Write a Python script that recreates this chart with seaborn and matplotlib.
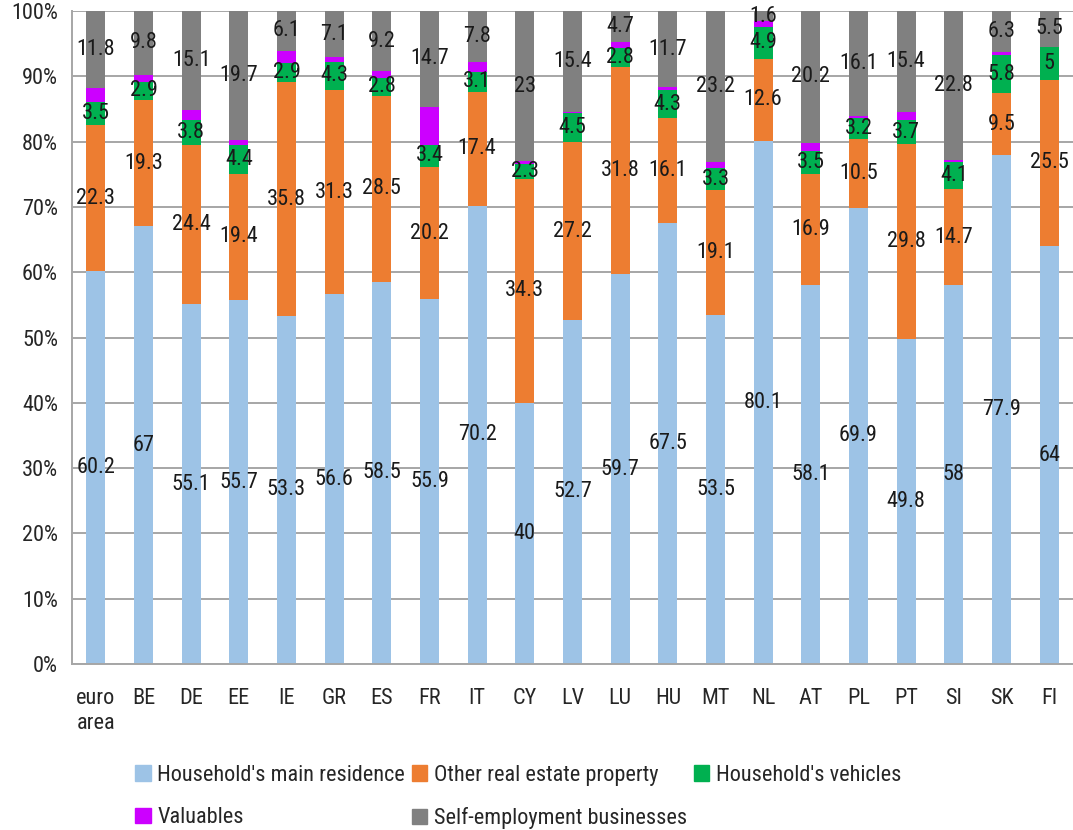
import matplotlib
matplotlib.use("Agg")
import matplotlib.pyplot as plt
import seaborn as sns
import pandas as pd
from matplotlib.patches import Patch

countries = ["euro\narea", "BE", "DE", "EE", "IE", "GR", "ES", "FR", "IT", "CY", "LV",
             "LU", "HU", "MT", "NL", "AT", "PL", "PT", "SI", "SK", "FI"]
main_residence = [60.2, 67, 55.1, 55.7, 53.3, 56.6, 58.5, 55.9, 70.2, 40, 52.7,
                  59.7, 67.5, 53.5, 80.1, 58.1, 69.9, 49.8, 58, 77.9, 64]
other_real_estate = [22.3, 19.3, 24.4, 19.4, 35.8, 31.3, 28.5, 20.2, 17.4, 34.3, 27.2,
                     31.8, 16.1, 19.1, 12.6, 16.9, 10.5, 29.8, 14.7, 9.5, 25.5]
vehicles = [3.5, 2.9, 3.8, 4.4, 2.9, 4.3, 2.8, 3.4, 3.1, 2.3, 4.5,
            2.8, 4.3, 3.3, 4.9, 3.5, 3.2, 3.7, 4.1, 5.8, 5]
valuables = [2.2, 1.0, 1.6, 0.8, 1.9, 0.7, 1.0, 5.8, 1.5, 0.4, 0.2,
             1.0, 0.4, 0.9, 0.8, 1.3, 0.3, 1.3, 0.4, 0.5, 0]
self_employment = [11.8, 9.8, 15.1, 19.7, 6.1, 7.1, 9.2, 14.7, 7.8, 23, 15.4,
                   4.7, 11.7, 23.2, 1.6, 20.2, 16.1, 15.4, 22.8, 6.3, 5.5]

series = [
    ("Household's main residence", main_residence, "#9DC3E6", True),
    ("Other real estate property", other_real_estate, "#ED7D31", True),
    ("Household's vehicles", vehicles, "#00B050", True),
    ("Valuables", valuables, "#CC00FF", False),
    ("Self-employment businesses", self_employment, "#808080", True),
]

sns.set_style("white")
plt.rcParams["font.family"] = ["Roboto Condensed", "Liberation Sans Narrow",
                               "Liberation Sans", "DejaVu Sans"]
fs = 16

df = pd.DataFrame({"country": countries})
cum = [0.0] * len(countries)
bottoms = []
for name, vals, color, lab in series:
    bottoms.append(list(cum))
    cum = [c + v for c, v in zip(cum, vals)]
    df[name] = cum

fig = plt.figure(figsize=(10.73, 8.30), dpi=100)
ax = fig.add_axes([72 / 1073, 166 / 830, 1 - 72 / 1073, (664 - 11) / 830])

# draw cumulative bars from the top segment down
for name, vals, color, lab in reversed(series):
    sns.barplot(data=df, x="country", y=name, color=color, width=0.4,
                saturation=1, ax=ax, zorder=2, linewidth=0)

# value labels
for (name, vals, color, lab), bot in zip(series, bottoms):
    if not lab:
        continue
    for i, (v, b) in enumerate(zip(vals, bot)):
        ax.text(i, b + v / 2, f"{v:g}", ha="center", va="center", fontsize=fs,
                color="#1a1a1a", zorder=3)

ax.set_ylim(0, 100)
ax.set_xlim(-0.5, len(countries) - 0.5)
ax.set_yticks(range(0, 101, 10))
ax.set_yticklabels([f"{t}%" for t in range(0, 101, 10)], fontsize=fs)
ax.set_xticks(range(len(countries)))
ax.set_xticklabels(countries, fontsize=fs, linespacing=1.3)
ax.set_xticks([i - 0.5 for i in range(len(countries) + 1)], minor=True)
ax.tick_params(axis="x", which="major", length=0, pad=17)
ax.tick_params(axis="x", which="minor", length=6, color="#A6A6A6", width=1.2,
               direction="out")
ax.tick_params(axis="y", length=6, color="#A6A6A6", width=1.2, direction="out", pad=4)
ax.set_xlabel("")
ax.set_ylabel("")
ax.yaxis.grid(True, color="#A6A6A6", linewidth=1.4)
ax.set_axisbelow(True)
for s in ["top", "right"]:
    ax.spines[s].set_visible(False)
for s in ["left", "bottom"]:
    ax.spines[s].set_color("#A6A6A6")
    ax.spines[s].set_linewidth(1.4)

handles = [Patch(color=c, label=n) for n, v, c, l in series]
order = [0, 3, 1, 4, 2]
fig.legend([handles[i] for i in order], [series[i][0] for i in order],
           ncol=3, loc="upper left", bbox_to_anchor=(135 / 1073, 1 - 765 / 830),
           frameon=False, fontsize=fs, handlelength=0.7, handleheight=0.7,
           handletextpad=0.3, columnspacing=0.3, labelspacing=0.95,
           borderaxespad=0, borderpad=0)

fig.savefig("out.png", dpi=100)
